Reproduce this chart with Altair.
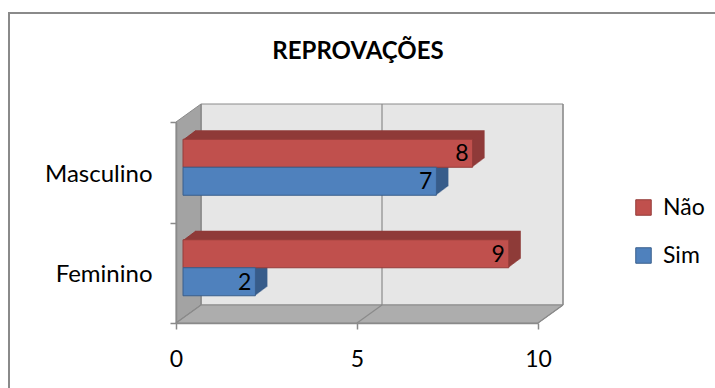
import json
import altair as alt
import pandas as pd

# ---- data ----
categories = ["Masculino", "Feminino"]
series = ["Não", "Sim"]
nao_values = [8, 9]
sim_values = [7, 2]
x_ticks = [0, 5, 10]
title_text = "REPROVAÇÕES"

# ---- style ----
front_colors = ["#c0504d", "#4f81bd"]
edge_colors = ["#943c3a", "#3a5f8c"]
side_colors = ["#8f3b39", "#385d8a"]
FONT = "Lato"
GRAY = "#8a8a8a"

W, H = 362, 201
XMAX = 10
DX, DY = 25, 18      # depth of the 3D box in px
BX, BY = 7, 5        # bar front face offset in px
EX, EY = 12, 9       # bar extrusion in px
BAR_PX = 28          # bar thickness in px
N = 12

rows = []
for i, c in enumerate(categories):
    rows.append({"categoria": c, "serie": series[0], "valor": nao_values[i]})
    rows.append({"categoria": c, "serie": series[1], "valor": sim_values[i]})
df = pd.DataFrame(rows)

nc, ns = len(categories), len(series)
dxu = DX * XMAX / W
dyu = DY / H
hu = BAR_PX / H

x_scale = alt.Scale(domain=[0, XMAX], nice=False, zero=False)
y_scale = alt.Scale(domain=[0, 1], nice=False, zero=False)

# y axis: ticks at band edges, labels at band centres
edges = [k / nc for k in range(nc + 1)]
centres = [1 - (i + 0.5) / nc for i in range(nc)]
label_expr = "".join(
    f"abs(datum.value - {c}) < 1e-6 ? '{categories[i]}' : " for i, c in enumerate(centres)
) + "''"
tick_test = " || ".join(f"abs(datum.value - {c}) < 1e-6" for c in centres)
y_axis = alt.Axis(
    values=sorted(edges + centres), labelExpr=label_expr, title=None, grid=False,
    domainColor=GRAY, tickColor=GRAY, tickSize=6, labelPadding=18, labelFontSize=24,
    labelFont=FONT, labelColor="black", domainWidth=1.5, tickWidth=1.5, labelOffset=2,
    labelFlush=False,
    tickOpacity=alt.condition(tick_test, alt.value(0), alt.value(1)), zindex=1,
)
x_axis = alt.Axis(
    values=x_ticks, title=None, grid=False, domainColor=GRAY, tickColor=GRAY,
    tickSize=6, labelPadding=19, labelFontSize=23, labelFont=FONT, labelColor="black",
    domainWidth=1.5, tickWidth=1.5, zindex=1, labelFlush=False,
)

one = pd.DataFrame({"t": [title_text]})

# frame around the whole chart
frame = alt.Chart(one).mark_rect(fillOpacity=0, stroke=GRAY, strokeWidth=2).encode(
    x=alt.value(-167), x2=alt.value(600), y=alt.value(-109), y2=alt.value(300)
)

title = alt.Chart(one).mark_text(
    font=FONT, fontSize=24, fontWeight="bold", baseline="alphabetic", align="center", color="black"
).encode(x=alt.value(W / 2 + 1), y=alt.value(-63), text="t:N")

# ---- 3D walls ----
back_df = pd.DataFrame({"x": [dxu], "x2": [XMAX + dxu], "y": [dyu], "y2": [1 + dyu]})
back_wall = alt.Chart(back_df).mark_rect(fill="#e6e6e6", stroke=GRAY, strokeWidth=1).encode(
    x=alt.X("x:Q", scale=x_scale, axis=x_axis),
    x2="x2:Q",
    y=alt.Y("y:Q", scale=y_scale, axis=y_axis),
    y2="y2:Q",
)

left_df = pd.DataFrame({"x": [0, dxu], "y": [0, dyu], "y2": [1, 1 + dyu]})
left_wall = alt.Chart(left_df).mark_area(
    orient="vertical", fill="#a3a3a3", stroke=GRAY, strokeWidth=1
).encode(x=alt.X("x:Q"), y=alt.Y("y:Q"), y2="y2:Q")

floor_df = pd.DataFrame({"y": [0, dyu], "x": [0, dxu], "x2": [XMAX, XMAX + dxu]})
floor = alt.Chart(floor_df).mark_area(
    orient="horizontal", fill="#adadad", stroke=GRAY, strokeWidth=1
).encode(y=alt.Y("y:Q"), x=alt.X("x:Q"), x2="x2:Q")

ticks_df = pd.DataFrame({"v": x_ticks})
grid_back = alt.Chart(ticks_df).transform_calculate(
    xb=f"datum.v + {dxu}", yb=f"{dyu}", yt=f"{1 + dyu}"
).mark_rule(color=GRAY, strokeWidth=1.2).encode(x="xb:Q", y="yb:Q", y2="yt:Q")
grid_floor = alt.Chart(ticks_df).transform_calculate(
    xb=f"datum.v + {dxu}", y0="0", yb=f"{dyu}"
).mark_rule(color=GRAY, strokeWidth=1.2).encode(x="v:Q", x2="xb:Q", y="y0:Q", y2="yb:Q")

# ---- bars ----
cats_js = json.dumps(categories)
sers_js = json.dumps(series)
base = alt.Chart(df).transform_calculate(
    ci=f"indexof({cats_js}, datum.categoria)",
    si=f"indexof({sers_js}, datum.serie)",
).transform_calculate(
    yt=f"1 - (datum.ci + 0.5) / {nc} + {hu} * ({ns} / 2 - datum.si)",
).transform_calculate(
    yb=f"datum.yt - {hu}",
    ym=f"datum.yt - {hu} / 2",
    x0="0",
)

side_fill = alt.condition(f"datum.serie == '{series[0]}'", alt.value(side_colors[0]), alt.value(side_colors[1]))

bar_layers = []
for k in range(N, 0, -1):
    ox = BX + EX * k / N
    oy = -BY - EY * k / N
    bar_layers.append(
        base.mark_rect(xOffset=ox, x2Offset=ox, yOffset=oy, y2Offset=oy, strokeWidth=0).encode(
            x="x0:Q", x2="valor:Q", y="yt:Q", y2="yb:Q", fill=side_fill
        )
    )

legend_kw = dict(
    title=None, orient="none", legendX=456, legendY=74, symbolType="square", symbolSize=240,
    labelFontSize=23, labelFont=FONT, labelColor="black", rowPadding=24, labelOffset=8,
    symbolStrokeWidth=1,
)
front = base.mark_rect(
    xOffset=BX, x2Offset=BX, yOffset=-BY, y2Offset=-BY, strokeWidth=1
).encode(
    x="x0:Q", x2="valor:Q", y="yt:Q", y2="yb:Q",
    fill=alt.Fill("serie:N", scale=alt.Scale(domain=series, range=front_colors), legend=alt.Legend(**legend_kw)),
    stroke=alt.Stroke("serie:N", scale=alt.Scale(domain=series, range=edge_colors), legend=alt.Legend(**legend_kw)),
)

labels = base.mark_text(
    align="right", baseline="middle", dx=BX - 4, dy=-BY + 1, fontSize=23, font=FONT, color="black"
).encode(x="valor:Q", y="ym:Q", text="valor:Q")

chart = alt.layer(
    frame, title, back_wall, left_wall, floor, grid_back, grid_floor, *bar_layers, front, labels
).properties(
    width=W, height=H,
    padding={"left": 176, "top": 122, "right": 715 - 176 - W, "bottom": 388 - 122 - H},
    autosize=alt.AutoSizeParams(type="none"),
    background="white",
).configure_view(stroke=None).configure_axis(grid=False)

chart.save("out.html", embed_options={"renderer": "svg", "actions": False})
